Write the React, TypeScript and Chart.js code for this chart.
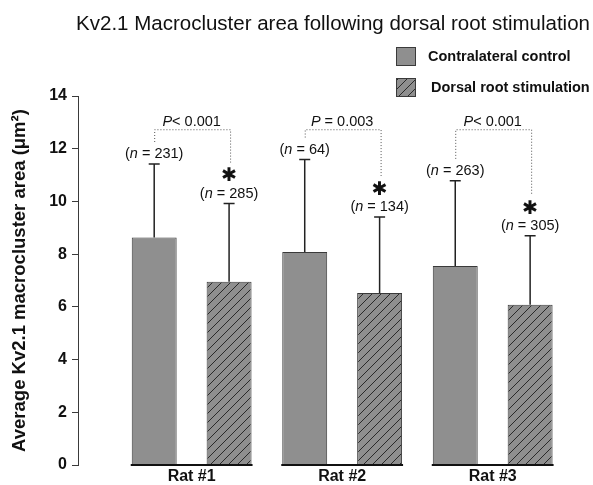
import React, { useEffect, useRef } from "react";
import { Chart, registerables } from "chart.js";

Chart.register(...registerables);

const FAMILY = "'Liberation Sans', Arial, Helvetica, sans-serif";

const categories = ["Rat #1", "Rat #2", "Rat #3"];
const seriesNames = ["Contralateral control", "Dorsal root stimulation"];
const controlMean = [8.63, 8.08, 7.55];
const controlSD = [2.79, 3.51, 3.23];
const drsMean = [6.95, 6.53, 6.08];
const drsSD = [2.97, 2.88, 2.62];
const controlN = [231, 64, 263];
const drsN = [285, 134, 305];
const pText = ["< 0.001", " = 0.003", "< 0.001"];
const yTicks = [0, 2, 4, 6, 8, 10, 12, 14];
const titleText = "Kv2.1 Macrocluster area following dorsal root stimulation";
const yTitle = "Average Kv2.1 macrocluster area (\u03bcm\u00b2)";

const X_MIN = -0.755;
const X_MAX = 2.6;

const GREY = "#8f8f8f";
const DARK = "#3a3a3a";

function makeHatch(): CanvasPattern | string {
  const s = 9;
  const p = document.createElement("canvas");
  p.width = s;
  p.height = s;
  const c = p.getContext("2d");
  if (!c) return GREY;
  c.fillStyle = GREY;
  c.fillRect(0, 0, s, s);
  c.strokeStyle = "#2a2a2a";
  c.lineWidth = 1;
  c.beginPath();
  c.moveTo(-1, s + 1);
  c.lineTo(s + 1, -1);
  c.moveTo(-2, 2);
  c.lineTo(2, -2);
  c.moveTo(s - 2, s + 2);
  c.lineTo(s + 2, s - 2);
  c.stroke();
  return c.createPattern(p, "repeat") || GREY;
}

function drawMixed(
  ctx: CanvasRenderingContext2D,
  parts: [string, boolean][],
  cx: number,
  cy: number,
  size: number
) {
  const widths = parts.map(([t, it]) => {
    ctx.font = `${it ? "italic " : ""}${size}px ${FAMILY}`;
    return ctx.measureText(t).width;
  });
  const total = widths.reduce((a, b) => a + b, 0);
  let x = cx - total / 2;
  ctx.textAlign = "left";
  ctx.textBaseline = "middle";
  ctx.fillStyle = "#111";
  parts.forEach(([t, it], i) => {
    ctx.font = `${it ? "italic " : ""}${size}px ${FAMILY}`;
    ctx.fillText(t, x, cy);
    x += widths[i];
  });
}

export default function App() {
  const ref = useRef<HTMLCanvasElement | null>(null);

  useEffect(() => {
    if (!ref.current) return;
    const hatch = makeHatch();

    const annot = {
      id: "annot",
      afterDatasetsDraw(chart: any) {
        const ctx: CanvasRenderingContext2D = chart.ctx;
        const ys = chart.scales.y;
        const m0 = chart.getDatasetMeta(0);
        const m1 = chart.getDatasetMeta(1);
        const means = [controlMean, drsMean];
        const sds = [controlSD, drsSD];
        ctx.save();
        [m0, m1].forEach((meta: any, di: number) => {
          meta.data.forEach((el: any, j: number) => {
            const top = ys.getPixelForValue(means[di][j] + sds[di][j]);
            ctx.strokeStyle = "#222";
            ctx.lineWidth = 1.5;
            ctx.beginPath();
            ctx.moveTo(el.x, el.y);
            ctx.lineTo(el.x, top);
            ctx.moveTo(el.x - 5.5, top);
            ctx.lineTo(el.x + 5.5, top);
            ctx.stroke();
          });
        });
        const y0 = ys.getPixelForValue(0);
        m0.data.forEach((el: any, j: number) => {
          const el2 = m1.data[j];
          ctx.strokeStyle = "#111";
          ctx.lineWidth = 2;
          ctx.beginPath();
          ctx.moveTo(el.x - el.width / 2 - 1, y0);
          ctx.lineTo(el2.x + el2.width / 2 + 1, y0);
          ctx.stroke();
        });
        const bracketY = ys.getPixelForValue(12.72);
        m0.data.forEach((el: any, j: number) => {
          const el2 = m1.data[j];
          const topC = ys.getPixelForValue(controlMean[j] + controlSD[j]);
          const topD = ys.getPixelForValue(drsMean[j] + drsSD[j]);
          const nC = topC - 10;
          const nD = topD - 10;
          const ast = nD - 17;
          drawMixed(ctx, [["(", false], ["n", true], [` = ${controlN[j]})`, false]], el.x, nC, 14.5);
          drawMixed(ctx, [["(", false], ["n", true], [` = ${drsN[j]})`, false]], el2.x, nD, 14.5);
          ctx.font = `bold 19px 'DejaVu Sans', sans-serif`;
          ctx.textAlign = "center";
          ctx.textBaseline = "middle";
          ctx.fillStyle = "#111";
          ctx.fillText("\u2731", el2.x, ast);
          ctx.strokeStyle = "#555";
          ctx.lineWidth = 1;
          ctx.setLineDash([1, 2]);
          ctx.beginPath();
          ctx.moveTo(el.x + 0.5, nC - 12);
          ctx.lineTo(el.x + 0.5, bracketY);
          ctx.lineTo(el2.x + 1.5, bracketY);
          ctx.lineTo(el2.x + 1.5, ast - 14);
          ctx.stroke();
          ctx.setLineDash([]);
          drawMixed(ctx, [["P", true], [pText[j], false]], (el.x + el2.x) / 2, bracketY - 7.5, 14.5);
        });
        ctx.font = `20.5px ${FAMILY}`;
        ctx.fillStyle = "#111";
        ctx.textAlign = "center";
        ctx.textBaseline = "middle";
        ctx.fillText(titleText, 333, 24);
        const leg = [
          { fill: GREY, y: 47, text: seriesNames[0], tx: 428 },
          { fill: hatch, y: 78, text: seriesNames[1], tx: 431 },
        ];
        leg.forEach((l) => {
          ctx.fillStyle = l.fill as any;
          ctx.fillRect(396, l.y, 20, 19);
          ctx.strokeStyle = DARK;
          ctx.lineWidth = 1;
          ctx.strokeRect(396.5, l.y + 0.5, 19, 18);
          ctx.font = `bold 14.5px ${FAMILY}`;
          ctx.fillStyle = "#111";
          ctx.textAlign = "left";
          ctx.textBaseline = "middle";
          ctx.fillText(l.text, l.tx, l.y + 10);
        });
        ctx.restore();
      },
    };

    const chart = new Chart(ref.current, {
      type: "bar",
      data: {
        datasets: [
          {
            label: seriesNames[0],
            data: controlMean.map((v, i) => ({ x: i, y: v })),
            backgroundColor: GREY,
            borderColor: DARK,
            borderWidth: 1,
            borderSkipped: "bottom",
          },
          {
            label: seriesNames[1],
            data: drsMean.map((v, i) => ({ x: i, y: v })),
            backgroundColor: hatch as any,
            borderColor: DARK,
            borderWidth: 1,
            borderSkipped: "bottom",
          },
        ],
      },
      options: {
        responsive: false,
        animation: false,
        devicePixelRatio: 1,
        barPercentage: 0.6,
        categoryPercentage: 0.995,
        layout: { padding: { top: 96, right: 10, bottom: 0, left: 0 } },
        plugins: {
          legend: { display: false },
          title: { display: false },
          tooltip: { enabled: false },
        },
        scales: {
          x: {
            type: "linear",
            offset: false,
            bounds: "data",
            grace: 0,
            min: X_MIN,
            max: X_MAX,
            afterDataLimits: (s: any) => {
              s.min = X_MIN;
              s.max = X_MAX;
            },
            afterFit: (s: any) => {
              s.height = 20;
            },
            afterBuildTicks: (s: any) => {
              s.ticks = categories.map((_, i) => ({ value: i }));
              s.min = X_MIN;
              s.max = X_MAX;
            },
            ticks: {
              callback: (v: any) => categories[Math.round(Number(v))] ?? "",
              font: { family: FAMILY, size: 16, weight: "bold" },
              color: "#111",
              padding: 2,
              maxRotation: 0,
              autoSkip: false,
            },
            grid: { display: false, drawTicks: false, offset: false },
            border: { display: false },
          },
          y: {
            min: 0,
            max: 14,
            afterFit: (s: any) => {
              s.width = 78;
            },
            afterBuildTicks: (s: any) => {
              s.ticks = yTicks.map((v) => ({ value: v }));
            },
            ticks: {
              font: { family: FAMILY, size: 16, weight: "bold" },
              color: "#111",
              padding: 5,
            },
            grid: {
              drawOnChartArea: false,
              tickLength: 6,
              color: DARK,
              lineWidth: 1,
            },
            border: { display: true, color: DARK, width: 1 },
            title: {
              display: true,
              text: yTitle,
              font: { family: FAMILY, size: 18.5, weight: "bold" },
              color: "#111",
              padding: { top: 9, bottom: 0 },
            },
          },
        },
      },
      plugins: [annot],
    });
    return () => chart.destroy();
  }, []);

  return (
    <div style={{ position: "fixed", left: 0, top: 0, width: 593, height: 485, background: "#fff" }}>
      <canvas ref={ref} width={593} height={485} style={{ width: 593, height: 485, display: "block" }} />
    </div>
  );
}
